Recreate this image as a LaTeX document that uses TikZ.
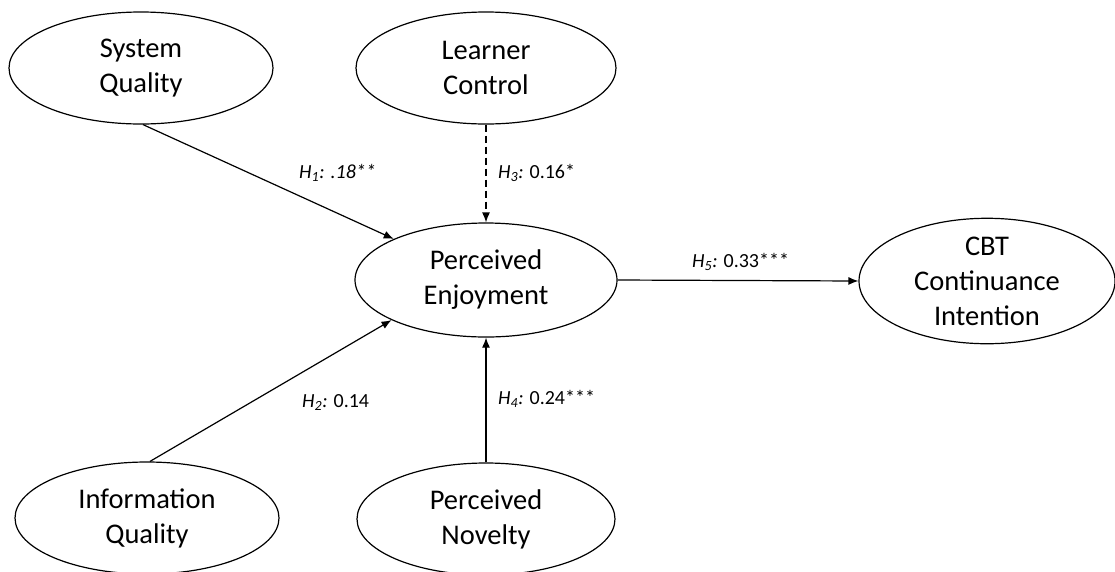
\documentclass[tikz,border=0pt]{standalone}
\usepackage{fontspec}
\setmainfont{Carlito}
\usetikzlibrary{shapes.geometric,arrows.meta}
\tikzset{
  construct/.style={draw=black, line width=1.2pt, ellipse, inner sep=0pt, align=center,
    font=\fontsize{28.5}{35}\selectfont},
  path/.style={draw=black, line width=1.2pt, -{Latex[length=10pt,width=8pt]}},
  dpath/.style={path, dash pattern=on 7pt off 4pt},
  coef/.style={anchor=base west, inner sep=0pt, font=\fontsize{20}{24}\selectfont}
}
\begin{document}
\begin{tikzpicture}[x=1pt,y=-1pt]
\useasboundingbox[fill=white] (0,0) rectangle (1115,571);
\node[construct, minimum width=264pt, minimum height=112pt] (sq) at (141,68) {System\\Quality};
\node[construct, minimum width=260pt, minimum height=112pt] (lc) at (486,68) {Learner\\Control};
\node[construct, minimum width=262pt, minimum height=114pt] (pe) at (486,280) {Perceived\\Enjoyment};
\node[construct, minimum width=256pt, minimum height=114pt] (cbt) at (987,281) {CBT\\Continuance\\Intention};
\node[construct, minimum width=264pt, minimum height=112pt] (iq) at (147,518) {Information\\Quality};
\node[construct, minimum width=258pt, minimum height=112pt] (pn) at (486,519) {Perceived\\Novelty};

\draw[path] (sq.-88) -- (pe.156);
\draw[path] (iq.87) -- (pe.203);
\draw[dpath] (lc.south) -- (pe.north);
\draw[path] (pn.north) -- (pe.south);
\draw[path] (pe.east) -- (cbt.west);

\node[coef] (l1) at (299,178) {\textit{H\textsubscript{1}: .18**}};
\node[coef] (l3) at (498,178) {\textit{H\textsubscript{3}:} 0.16*};
\node[coef] (l2) at (302,407) {\textit{H\textsubscript{2}:} 0.14};
\node[coef] (l4) at (498,404) {\textit{H\textsubscript{4}:} 0.24***};
\node[coef] (l5) at (692,267) {\textit{H\textsubscript{5}:} 0.33***};
\end{tikzpicture}
\end{document}
